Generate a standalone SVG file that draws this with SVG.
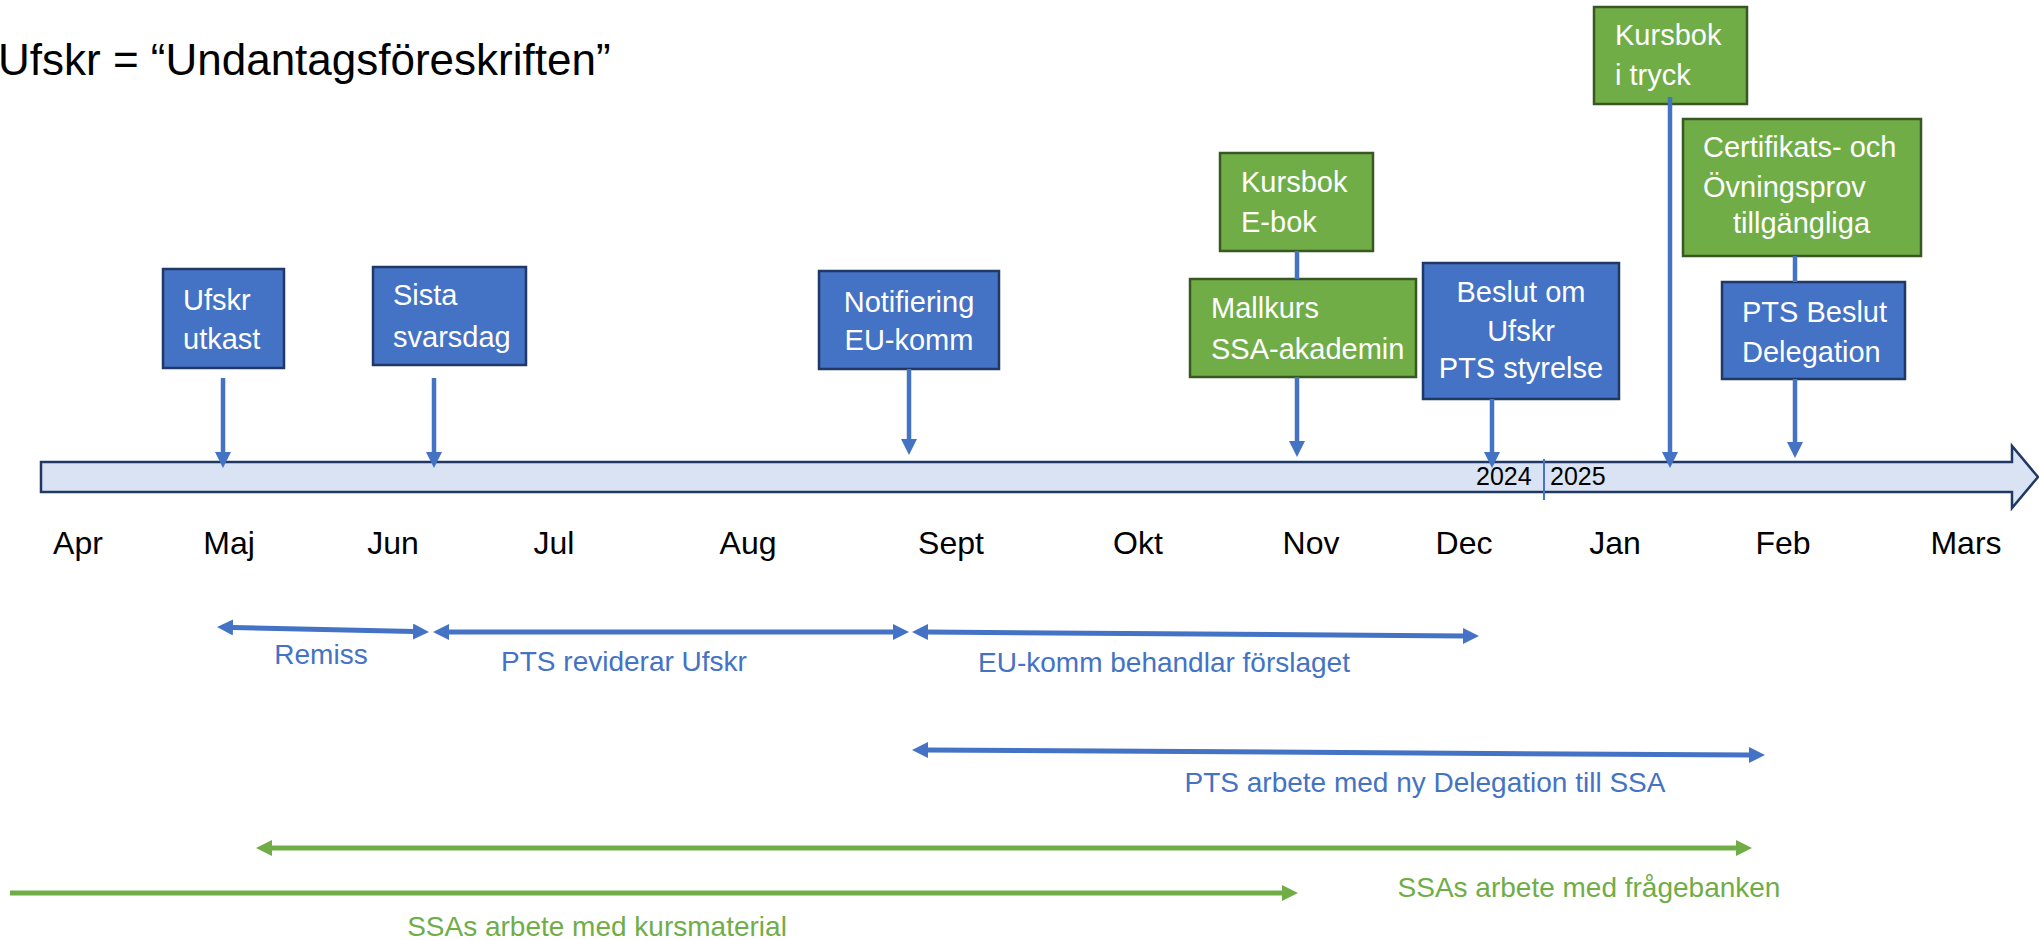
<svg xmlns="http://www.w3.org/2000/svg" width="2039" height="940" viewBox="0 0 2039 940">
<style>
text{font-family:"Liberation Sans",Arial,sans-serif}
.blue{fill:#4472C4;stroke:#203864;stroke-width:2.5}
.green{fill:#70AD47;stroke:#385723;stroke-width:2.5}
.bt{fill:#fff;font-size:29px}
.mid{text-anchor:middle}
.month{font-size:32px;fill:#000;text-anchor:middle}
.year{font-size:25px;fill:#000}
.lblB{font-size:28px;fill:#4472C4;text-anchor:middle}
.lblG{font-size:28px;fill:#70AD47;text-anchor:middle}
.vb{stroke:#4472C4;stroke-width:4.5;fill:none}
.sb{stroke:#4472C4;stroke-width:5;fill:none}
.sg{stroke:#70AD47;stroke-width:5;fill:none}
</style>
<defs>
<marker id="ahB" markerUnits="userSpaceOnUse" markerWidth="16" markerHeight="16" viewBox="0 0 16 16" refX="1" refY="8" orient="auto-start-reverse"><path d="M0,0 L16,8 L0,16 z" fill="#4472C4"/></marker>
<marker id="ahG" markerUnits="userSpaceOnUse" markerWidth="16" markerHeight="16" viewBox="0 0 16 16" refX="1" refY="8" orient="auto-start-reverse"><path d="M0,0 L16,8 L0,16 z" fill="#70AD47"/></marker>
</defs>
<rect width="2039" height="940" fill="#fff"/>
<text x="-2" y="75" font-size="44" fill="#000">Ufskr = “Undantagsföreskriften”</text>

<g id="timeline">
<path d="M41,462 H2012 V446 L2038,477 L2012,508 V492 H41 Z" fill="#DAE3F3" stroke="#203864" stroke-width="2.5"/>
<line x1="1544" y1="459" x2="1544" y2="500" stroke="#4472C4" stroke-width="2"/>
<text class="year" x="1476" y="485">2024</text>
<text class="year" x="1550" y="485">2025</text>
</g>

<g id="months">
<text class="month" x="78" y="554">Apr</text>
<text class="month" x="229" y="554">Maj</text>
<text class="month" x="393" y="554">Jun</text>
<text class="month" x="554" y="554">Jul</text>
<text class="month" x="748" y="554">Aug</text>
<text class="month" x="951" y="554">Sept</text>
<text class="month" x="1138" y="554">Okt</text>
<text class="month" x="1311" y="554">Nov</text>
<text class="month" x="1464" y="554">Dec</text>
<text class="month" x="1615" y="554">Jan</text>
<text class="month" x="1783" y="554">Feb</text>
<text class="month" x="1966" y="554">Mars</text>
</g>

<g id="n-ufskr-utkast">
<rect class="blue" x="163" y="269" width="121" height="99"/>
<text class="bt" x="183" y="310">Ufskr</text>
<text class="bt" x="183" y="349">utkast</text>
</g>
<g id="n-sista-svarsdag">
<rect class="blue" x="373" y="267" width="153" height="98"/>
<text class="bt" x="393" y="305">Sista</text>
<text class="bt" x="393" y="347">svarsdag</text>
</g>
<g id="n-notifiering">
<rect class="blue" x="819" y="271" width="180" height="98"/>
<text class="bt mid" x="909" y="312">Notifiering</text>
<text class="bt mid" x="909" y="350">EU-komm</text>
</g>
<g id="n-kursbok-ebok">
<rect class="green" x="1220" y="153" width="153" height="98"/>
<text class="bt" x="1241" y="192">Kursbok</text>
<text class="bt" x="1241" y="232">E-bok</text>
</g>
<g id="n-mallkurs">
<rect class="green" x="1190" y="279" width="226" height="98"/>
<text class="bt" x="1211" y="318">Mallkurs</text>
<text class="bt" x="1211" y="359">SSA-akademin</text>
</g>
<g id="n-beslut-ufskr">
<rect class="blue" x="1423" y="263" width="196" height="136"/>
<text class="bt mid" x="1521" y="302">Beslut om</text>
<text class="bt mid" x="1521" y="341">Ufskr</text>
<text class="bt mid" x="1521" y="378">PTS styrelse</text>
</g>
<g id="n-kursbok-tryck">
<rect class="green" x="1594" y="7" width="153" height="97"/>
<text class="bt" x="1615" y="45">Kursbok</text>
<text class="bt" x="1615" y="85">i tryck</text>
</g>
<g id="n-certifikatsprov">
<rect class="green" x="1683" y="119" width="238" height="137"/>
<text class="bt" x="1703" y="157">Certifikats- och</text>
<text class="bt" x="1703" y="197">Övningsprov</text>
<text class="bt" x="1733" y="233">tillgängliga</text>
</g>
<g id="n-pts-beslut">
<rect class="blue" x="1722" y="282" width="183" height="97"/>
<text class="bt" x="1742" y="322">PTS Beslut</text>
<text class="bt" x="1742" y="362">Delegation</text>
</g>

<g id="connectors">
<line class="vb" x1="223" y1="378" x2="223" y2="453" marker-end="url(#ahB)"/>
<line class="vb" x1="434" y1="378" x2="434" y2="453" marker-end="url(#ahB)"/>
<line class="vb" x1="909" y1="369" x2="909" y2="440" marker-end="url(#ahB)"/>
<line class="vb" x1="1297" y1="251" x2="1297" y2="279"/>
<line class="vb" x1="1297" y1="377" x2="1297" y2="442" marker-end="url(#ahB)"/>
<line class="vb" x1="1492" y1="399" x2="1492" y2="453" marker-end="url(#ahB)"/>
<line class="vb" x1="1670" y1="97" x2="1670" y2="453" marker-end="url(#ahB)"/>
<line class="vb" x1="1795" y1="256" x2="1795" y2="282"/>
<line class="vb" x1="1795" y1="379" x2="1795" y2="443" marker-end="url(#ahB)"/>

<line class="sb" x1="232" y1="627.4" x2="414" y2="631.6" marker-start="url(#ahB)" marker-end="url(#ahB)"/>
<line class="sb" x1="448" y1="632" x2="894" y2="632" marker-start="url(#ahB)" marker-end="url(#ahB)"/>
<line class="sb" x1="927" y1="632" x2="1464" y2="636" marker-start="url(#ahB)" marker-end="url(#ahB)"/>
<line class="sb" x1="927" y1="750" x2="1750" y2="755" marker-start="url(#ahB)" marker-end="url(#ahB)"/>
<line class="sg" x1="271" y1="848" x2="1737" y2="848" marker-start="url(#ahG)" marker-end="url(#ahG)"/>
<line class="sg" x1="10" y1="893" x2="1283" y2="893" marker-end="url(#ahG)"/>
</g>

<g id="span-labels">
<text class="lblB" x="321" y="664">Remiss</text>
<text class="lblB" x="624" y="671">PTS reviderar Ufskr</text>
<text class="lblB" x="1164" y="672">EU-komm behandlar förslaget</text>
<text class="lblB" x="1425" y="792">PTS arbete med ny Delegation till SSA</text>
<text class="lblG" x="1589" y="897">SSAs arbete med frågebanken</text>
<text class="lblG" x="597" y="936">SSAs arbete med kursmaterial</text>
</g>
</svg>
